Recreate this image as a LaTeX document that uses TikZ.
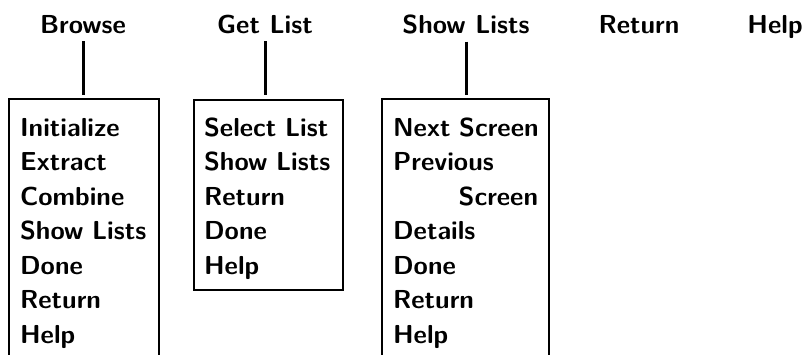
\documentclass[tikz,border=0pt]{standalone}
\usetikzlibrary{positioning}
\tikzset{
  menufont/.style={font=\sffamily\bfseries\fontsize{26}{34.5}\selectfont},
  head/.style={menufont, inner sep=0pt, anchor=base},
  items/.style={menufont, align=left, inner xsep=10pt, inner ysep=0pt, anchor=north west},
  link/.style={line width=3pt, shorten <=7pt, shorten >=4pt},
}
\newcommand{\firstrow}{\rule{0pt}{36pt}}
\newcommand{\lastrow}[1]{\rule[-#1]{0pt}{#1}}

\begin{document}
\begin{tikzpicture}[x=1pt, y=-1pt, line width=2.2pt]
\useasboundingbox (0,0) rectangle (804,354);
% menu bar
\node[head] (browse) at (83,33) {Browse};
\node[head] (getlist) at (265,33) {Get List};
\node[head] (showlists) at (466,33) {Show Lists};
\node[head] (return) at (639,33) {Return};
\node[head] (help) at (775,33) {Help};
% pull-down menus
\node[items, text width=128pt] (browsebox) at (9,99) {\firstrow Initialize\\Extract\\Combine\\Show Lists\\Done\\Return\\Help\lastrow{12pt}};
\node[items, draw, text width=129pt] (getlistbox) at (193,99) {\firstrow Select List\\Show Lists\\Return\\Done\\Help\lastrow{16pt}};
\node[items, text width=145pt] (showlistsbox) at (382,99) {\firstrow\mbox{Next Screen}\\Previous\\\hspace*{\fill}Screen\\Details\\Done\\Return\\Help\lastrow{12pt}};
\draw (browsebox.south west) -- (browsebox.north west) -- (browsebox.north east) -- (browsebox.south east);
\draw (showlistsbox.south west) -- (showlistsbox.north west) -- (showlistsbox.north east) -- (showlistsbox.south east);
% links
\draw[link] (browse.south) -- (browse.south |- browsebox.north);
\draw[link] (getlist.south) -- (getlist.south |- getlistbox.north);
\draw[link] (showlists.south) -- (showlists.south |- showlistsbox.north);
\end{tikzpicture}
\end{document}
